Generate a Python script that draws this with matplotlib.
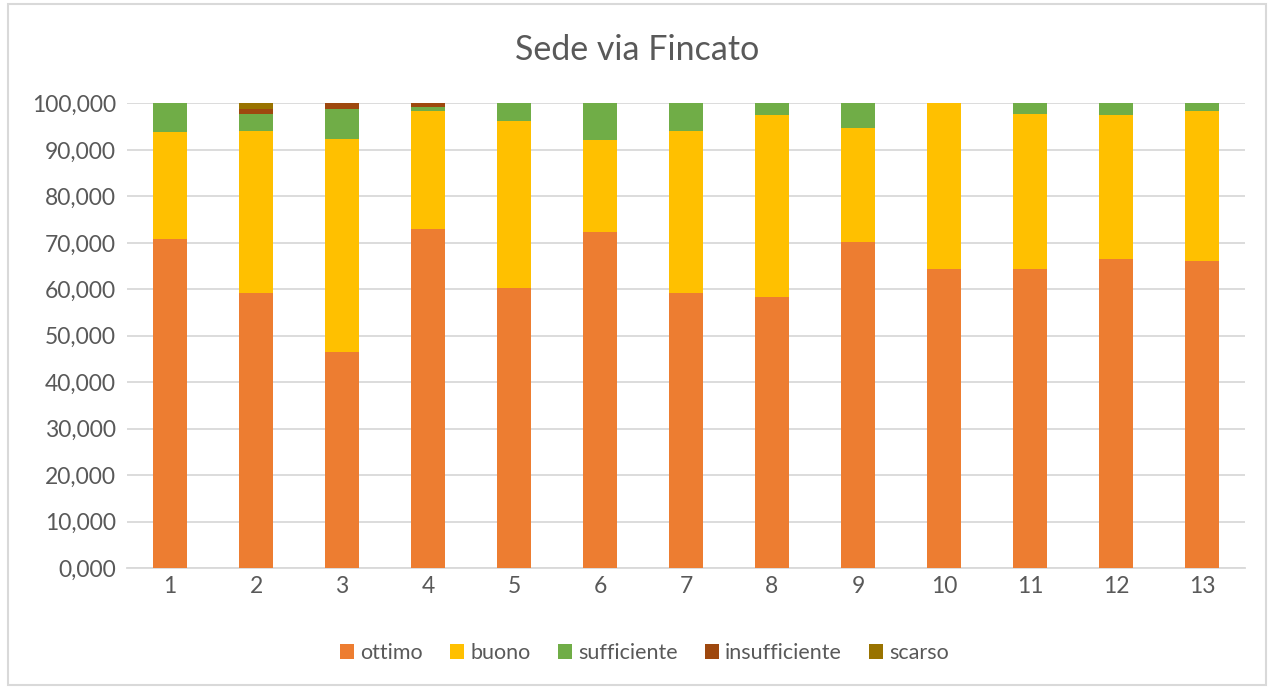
import matplotlib.pyplot as plt
from matplotlib.patches import Rectangle
from matplotlib.ticker import FuncFormatter
import numpy as np

plt.rcParams['font.family'] = ['Lato', 'DejaVu Sans']

categories = [str(i) for i in range(1, 14)]
ottimo = [70.8, 59.2, 46.4, 72.9, 60.3, 72.4, 59.2, 58.3, 70.2, 64.4, 64.4, 66.6, 66.0]
buono = [23.0, 34.8, 45.9, 25.5, 35.9, 19.7, 34.8, 39.3, 24.6, 35.6, 33.4, 30.9, 32.4]
sufficiente = [6.2, 3.8, 6.5, 0.8, 3.8, 7.9, 6.0, 2.4, 5.2, 0.0, 2.2, 2.5, 1.6]
insufficiente = [0.0, 1.1, 1.2, 0.8, 0.0, 0.0, 0.0, 0.0, 0.0, 0.0, 0.0, 0.0, 0.0]
scarso = [0.0, 1.1, 0.0, 0.0, 0.0, 0.0, 0.0, 0.0, 0.0, 0.0, 0.0, 0.0, 0.0]

series = [
    ("ottimo", ottimo, "#ED7D31"),
    ("buono", buono, "#FFC000"),
    ("sufficiente", sufficiente, "#70AD47"),
    ("insufficiente", insufficiente, "#9E480E"),
    ("scarso", scarso, "#997300"),
]

text_color = "#595959"
grid_color = "#D9D9D9"

fig = plt.figure(figsize=(12.74, 6.89), dpi=100)
ax = fig.add_axes([0.0997, 0.1756, 0.8775, 0.6742])

x = np.arange(1, len(categories) + 1)
bottom = np.zeros(len(categories))
for name, vals, color in series:
    ax.bar(x, vals, width=0.4, bottom=bottom, color=color, label=name, zorder=3)
    bottom += np.array(vals)

ax.set_xlim(0.5, 13.5)
ax.set_ylim(0, 100)
ax.set_yticks(np.arange(0, 101, 10))
ax.yaxis.set_major_formatter(FuncFormatter(lambda v, p: f"{v:.3f}".replace(".", ",")))
ax.set_xticks(x)
ax.set_xticklabels(categories)
ax.grid(axis="y", color=grid_color, linewidth=1.3, zorder=0)
for s in ["top", "right", "left"]:
    ax.spines[s].set_visible(False)
ax.spines["bottom"].set_color(grid_color)
ax.spines["bottom"].set_linewidth(1.3)
ax.tick_params(axis="both", length=0, labelsize=16.5, colors=text_color)
ax.tick_params(axis="y", pad=8)
ax.tick_params(axis="x", pad=6)

fig.text(0.5, 0.927, "Sede via Fincato", ha="center", va="center",
         fontsize=24.5, color=text_color)

fig.legend(loc="center", bbox_to_anchor=(0.506, 0.052), ncol=5, frameon=False,
           fontsize=15.5, handlelength=0.65, handleheight=0.65, handletextpad=0.3,
           columnspacing=1.25, labelcolor=text_color)

fig.patches.append(Rectangle((0.006, 0.006), 0.988, 0.988, transform=fig.transFigure,
                             fill=False, edgecolor=grid_color, linewidth=1.5))

fig.savefig("out.png", dpi=100)
